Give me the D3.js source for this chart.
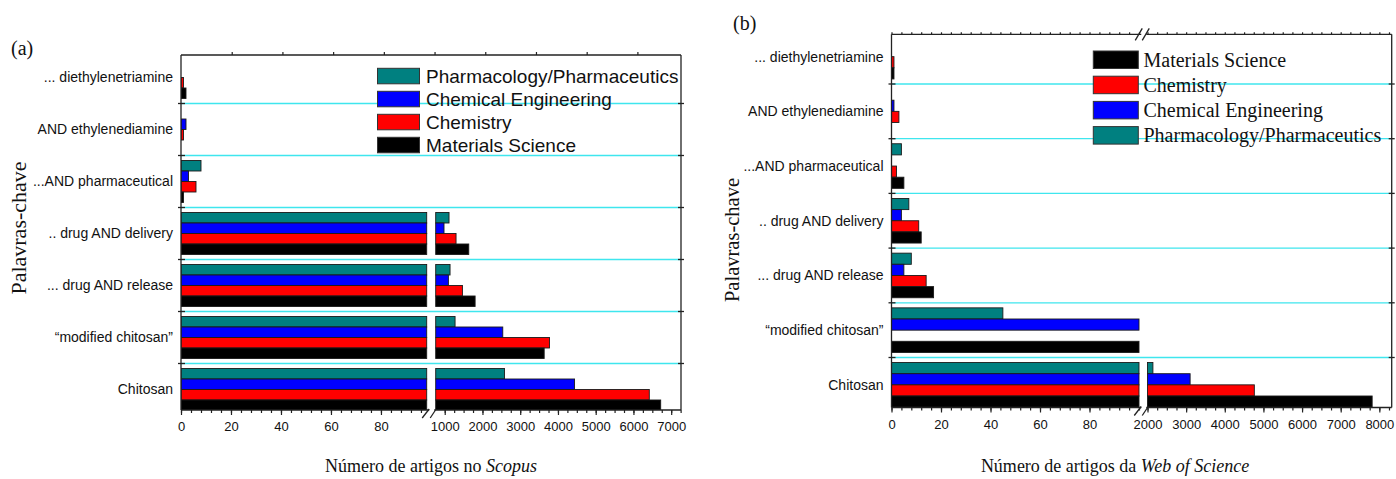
<!DOCTYPE html>
<html><head><meta charset="utf-8">
<script src="https://cdn.jsdelivr.net/npm/d3@7/dist/d3.min.js"></script>
<style>body{margin:0;background:#fff}svg{display:block}</style>
</head><body>
<svg id="chart" width="1396" height="479"></svg>
<script>
// ---------------- data ----------------
const categories = ['... diethylenetriamine', 'AND ethylenediamine', '...AND pharmaceutical',
  '.. drug AND delivery', '... drug AND release', '\u201Cmodified chitosan\u201D', 'Chitosan'];
const seriesNames = ['Pharmacology/Pharmaceutics', 'Chemical Engineering', 'Chemistry', 'Materials Science'];
const seriesColors = ['#008080', '#0000ff', '#ff0000', '#000000'];

// (a) Scopus
const scopusPharma  = [0, 0, 8, 1114, 1141, 1274, 2583];
const scopusChemEng = [0, 2, 3, 981, 1097, 2538, 4440];
const scopusChem    = [1, 1, 6, 1300, 1469, 3777, 6420];
const scopusMatSci  = [2, 0, 1, 1637, 1805, 3635, 6722];

// (b) Web of Science
const wosPharma  = [0, 0, 4, 7, 8, 45, 2140];
const wosChemEng = [0, 1, 0, 4, 5, 1200, 3103];
const wosChem    = [1, 3, 2, 11, 14, 0, 4765];
const wosMatSci  = [1, 0, 5, 12, 17, 1200, 7814];

const lowTicksA  = [0, 20, 40, 60, 80];
const highTicksA = [1000, 2000, 3000, 4000, 5000, 6000, 7000];
const lowTicksB  = [0, 20, 40, 60, 80];
const highTicksB = [2000, 3000, 4000, 5000, 6000, 7000, 8000];

const legendOrderA = [0, 1, 2, 3];
const legendOrderB = [3, 2, 1, 0];

// ---------------- drawing ----------------
const SANS = "'Liberation Sans', Arial, Helvetica, sans-serif";
const SERIF = "'Liberation Serif', 'Times New Roman', serif";
const svg = d3.select('#chart');

function drawPanel(cfg) {
  const g = svg.append('g');
  const {left, right, top, bottom} = cfg;
  const xl = d3.scaleLinear().domain(cfg.lowDomain).range(cfg.lowRange);
  const xu = d3.scaleLinear().domain(cfg.highDomain).range(cfg.highRange);
  const lowMax = cfg.lowDomain[1], highMin = cfg.highDomain[0];
  const yb = d3.scaleBand().domain(categories).range(cfg.bandRange).paddingInner(0).paddingOuter(0);
  const bw = yb.bandwidth();
  const ys = d3.scaleBand().domain(seriesNames).range([(bw - bw * cfg.groupFrac) / 2, (bw + bw * cfg.groupFrac) / 2]);

  const clipId = 'clip' + cfg.id;
  svg.append('clipPath').attr('id', clipId).append('rect')
    .attr('x', left).attr('y', top).attr('width', right - left).attr('height', bottom - top);

  // gridlines at category boundaries
  const bounds = categories.slice(1).map(c => yb(c));
  g.append('g').selectAll('line').data(bounds).join('line')
    .attr('x1', left).attr('x2', right).attr('y1', d => d).attr('y2', d => d)
    .attr('stroke', '#3fe6ee').attr('stroke-width', 1.3);

  // bars
  const bars = g.append('g').attr('clip-path', `url(#${clipId})`);
  cfg.series.forEach((vals, si) => {
    vals.forEach((v, ci) => {
      if (!v) return;
      const y = yb(categories[ci]) + ys(seriesNames[si]);
      const h = ys.bandwidth();
      const pieces = [[xl(0), xl(Math.min(v, lowMax))]];
      if (v >= highMin) pieces.push([xu(highMin), xu(v)]);
      pieces.forEach(p => {
        bars.append('rect').attr('x', p[0]).attr('y', y)
          .attr('width', Math.max(0.8, p[1] - p[0])).attr('height', h)
          .attr('fill', seriesColors[si]).attr('stroke', '#1a1a1a').attr('stroke-width', 0.9);
      });
    });
  });

  // frame
  const fr = g.append('g').attr('stroke', '#222').attr('stroke-width', 1.3).attr('fill', 'none');
  const brk = (cfg.lowRange[1] + cfg.highRange[0]) / 2;
  fr.append('line').attr('x1', left).attr('x2', left).attr('y1', top).attr('y2', bottom);
  fr.append('line').attr('x1', right).attr('x2', right).attr('y1', top).attr('y2', bottom);
  fr.append('line').attr('x1', left).attr('x2', brk - 2).attr('y1', bottom).attr('y2', bottom);
  fr.append('line').attr('x1', brk + 3).attr('x2', right).attr('y1', bottom).attr('y2', bottom);
  if (cfg.topBreak) {
    fr.append('line').attr('x1', left).attr('x2', brk - 2).attr('y1', top).attr('y2', top);
    fr.append('line').attr('x1', brk + 3).attr('x2', right).attr('y1', top).attr('y2', top);
    fr.append('line').attr('x1', brk - 8).attr('y1', top + 6).attr('x2', brk - 1).attr('y2', top - 6);
    fr.append('line').attr('x1', brk - 1).attr('y1', top + 6).attr('x2', brk + 6).attr('y2', top - 6);
  } else {
    fr.append('line').attr('x1', left).attr('x2', right).attr('y1', top).attr('y2', top);
  }
  // bottom break marks
  fr.append('line').attr('x1', brk - 9).attr('y1', bottom + 8).attr('x2', brk - 2).attr('y2', bottom - 1);
  fr.append('line').attr('x1', brk - 1).attr('y1', bottom + 8).attr('x2', brk + 5).attr('y2', bottom - 1);

  // category ticks (left + right)
  const ct = g.append('g').attr('stroke', '#222').attr('stroke-width', 1.3);
  bounds.forEach(b => {
    ct.append('line').attr('x1', left - 3).attr('x2', left + 4).attr('y1', b).attr('y2', b);
    ct.append('line').attr('x1', right - 3).attr('x2', right + 3).attr('y1', b).attr('y2', b);
  });

  // category labels
  g.append('g').selectAll('text').data(categories).join('text')
    .attr('x', left - 8).attr('y', d => yb(d) + bw / 2).attr('dy', '0.35em')
    .attr('text-anchor', 'end').attr('font-family', SANS).attr('font-size', cfg.catFont)
    .attr('fill', '#111').text(d => d);

  // bottom axis
  const styleAxis = sel => {
    sel.select('.domain').remove();
    sel.selectAll('line').attr('stroke', '#222').attr('stroke-width', 1.2);
    sel.selectAll('text').attr('font-family', SANS).attr('font-size', 13).attr('fill', '#111');
  };
  const lowMinor = d3.range(0, lowMax + 0.01, 4);
  const highMinor = d3.range(Math.ceil(highMin / 250) * 250, cfg.highDomain[1] + 1, 250);
  g.append('g').attr('transform', `translate(0,${bottom})`)
    .call(d3.axisBottom(xl).tickValues(lowMinor).tickSize(3).tickFormat('')).call(styleAxis);
  g.append('g').attr('transform', `translate(0,${bottom})`)
    .call(d3.axisBottom(xl).tickValues(cfg.lowTicks).tickSize(5).tickPadding(7).tickFormat(d3.format('d'))).call(styleAxis);
  g.append('g').attr('transform', `translate(0,${bottom})`)
    .call(d3.axisBottom(xu).tickValues(highMinor).tickSize(3).tickFormat('')).call(styleAxis);
  g.append('g').attr('transform', `translate(0,${bottom})`)
    .call(d3.axisBottom(xu).tickValues(cfg.highTicks).tickSize(5).tickPadding(7).tickFormat(d3.format('d'))).call(styleAxis);

  // top ticks
  if (cfg.topMirror) {
    g.append('g').attr('transform', `translate(0,${top})`)
      .call(d3.axisTop(xl).tickValues(lowMinor).tickSize(2).tickFormat('')).call(styleAxis);
    g.append('g').attr('transform', `translate(0,${top})`)
      .call(d3.axisTop(xu).tickValues(highMinor).tickSize(2).tickFormat('')).call(styleAxis);
  } else {
    const xt = d3.scaleLinear().domain([0, 197.2]).range([left, right]);
    g.append('g').attr('transform', `translate(0,${top})`)
      .call(d3.axisTop(xt).tickValues(d3.range(20, 197, 20)).tickSize(3).tickFormat('')).call(styleAxis);
  }

  // legend
  const lg = g.append('g');
  cfg.legendOrder.forEach((si, i) => {
    const y = cfg.legend.y + i * cfg.legend.step;
    lg.append('rect').attr('x', cfg.legend.x).attr('y', y)
      .attr('width', cfg.legend.w).attr('height', cfg.legend.h)
      .attr('fill', seriesColors[si]).attr('stroke', '#333').attr('stroke-width', 1);
    lg.append('text').attr('x', cfg.legend.tx).attr('y', y + cfg.legend.h / 2).attr('dy', '0.35em')
      .attr('font-family', cfg.legend.font).attr('font-size', cfg.legend.size).attr('fill', '#111')
      .text(seriesNames[si]);
  });

  // titles
  g.append('text').attr('transform', `translate(${cfg.yTitle.x},${cfg.yTitle.y}) rotate(-90)`)
    .attr('text-anchor', 'middle').attr('dy', '0.35em')
    .attr('font-family', SERIF).attr('font-size', cfg.yTitle.size).attr('fill', '#111').text('Palavras-chave');
  const xt = g.append('text').attr('x', cfg.xTitle.x).attr('y', cfg.xTitle.y).attr('text-anchor', 'middle')
    .attr('font-family', SERIF).attr('font-size', 18).attr('fill', '#111');
  xt.append('tspan').text(cfg.xTitle.plain);
  xt.append('tspan').attr('font-style', 'italic').text(cfg.xTitle.italic);
  g.append('text').attr('x', cfg.tag.x).attr('y', cfg.tag.y)
    .attr('font-family', SERIF).attr('font-size', 20).attr('fill', '#111').text(cfg.tag.text);
}

drawPanel({
  id: 'a', left: 181, right: 681, top: 55, bottom: 410,
  lowDomain: [0, 98.3], lowRange: [181, 426.7],
  highDomain: [761, 7260], highRange: [435.7, 681],
  bandRange: [51.5, 51.5 + 7 * 52], groupFrac: 42 / 52,
  series: [scopusPharma, scopusChemEng, scopusChem, scopusMatSci],
  lowTicks: lowTicksA, highTicks: highTicksA,
  topBreak: false, topMirror: false, catFont: 14,
  legendOrder: legendOrderA,
  legend: {x: 377.5, y: 68.3, step: 23, w: 42, h: 15.5, tx: 426, font: SANS, size: 19},
  yTitle: {x: 18, y: 228, size: 22},
  xTitle: {x: 431, y: 472, plain: 'Número de artigos no ', italic: 'Scopus'},
  tag: {x: 11, y: 55, text: '(a)'}
});

drawPanel({
  id: 'b', left: 891.5, right: 1391.7, top: 34.3, bottom: 407.5,
  lowDomain: [0, 100], lowRange: [891.5, 1139],
  highDomain: [2000, 8320], highRange: [1147.5, 1391.7],
  bandRange: [29.3, 29.3 + 7 * 54.7], groupFrac: 44.6 / 54.7,
  series: [wosPharma, wosChemEng, wosChem, wosMatSci],
  lowTicks: lowTicksB, highTicks: highTicksB,
  topBreak: true, topMirror: true, catFont: 14,
  legendOrder: legendOrderB,
  legend: {x: 1093.3, y: 51, step: 25.2, w: 45, h: 17.5, tx: 1143.5, font: SERIF, size: 20},
  yTitle: {x: 732, y: 240, size: 20.5},
  xTitle: {x: 1115, y: 472, plain: 'Número de artigos da ', italic: 'Web of Science'},
  tag: {x: 733, y: 30, text: '(b)'}
});
</script>
</body></html>
